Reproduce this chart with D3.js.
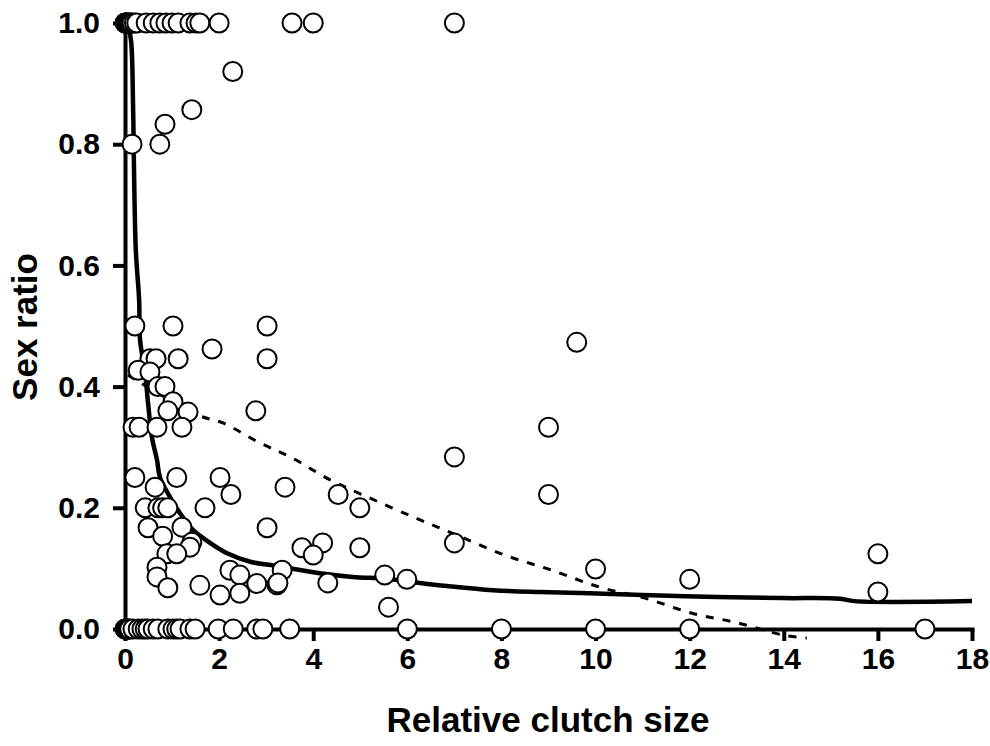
<!DOCTYPE html>
<html>
<head>
<meta charset="UTF-8">
<title>Sex ratio vs relative clutch size</title>
<style>
  * { margin: 0; padding: 0; }
  body { background: #fff; }
  text { font-family: "Liberation Sans", Arial, sans-serif; font-weight: bold; fill: #000; }
</style>
<script src="https://cdn.jsdelivr.net/npm/d3@7/dist/d3.min.js"></script>
</head>
<body>
<svg id="chart" width="990" height="746"></svg>
<script>
// observations with sex ratio 1.0
const onesX = [0, 0.01, 0.02, 0.03, 0.05, 0.07, 0.09, 0.12, 0.15, 0.2, 0.25, 0.45, 0.6, 0.74, 0.87, 1.0, 1.13, 1.38, 1.51, 1.59, 2.0, 3.55, 4.0, 7.0];
// observations with sex ratio 0.0
const zerosX = [0, 0.01, 0.02, 0.04, 0.06, 0.08, 0.1, 0.17, 0.28, 0.36, 0.43, 0.49, 0.6, 0.7, 0.91, 1.02, 1.1, 1.17, 1.38, 1.49, 1.98, 2.3, 2.8, 2.93, 3.5, 6, 8, 10, 12, 17];
// everything in between
const midX = [0.15, 0.74, 0.85, 1.42, 2.29,
  0.21, 1.02, 3.02, 1.85, 3.02, 0.53, 0.66, 1.13, 0.28, 0.53, 0.70, 0.85, 1.02, 0.91, 1.34, 2.78,
  0.17, 0.3, 0.68, 1.21,
  0.21, 0.64, 1.1, 2.02, 2.25, 3.4, 0.43, 0.7, 0.8, 0.91, 1.7, 0.49, 0.8, 1.21, 3.02, 1.42, 1.38,
  0.89, 1.1, 0.68, 0.68, 1.59, 2.23, 2.44, 2.8, 3.34, 0.91, 2.02, 2.44, 3.23,
  4.53, 4.99, 3.76, 4.2, 4.0, 4.99, 3.25, 4.31, 5.52, 5.99, 5.6,
  9.0, 7.0, 9.0, 7.0, 9.6, 10.0, 12.0, 16.0, 16.0];
const midY = [0.80, 0.80, 0.833, 0.857, 0.92,
  0.5, 0.5, 0.5, 0.462, 0.446, 0.446, 0.446, 0.446, 0.427, 0.424, 0.40, 0.40, 0.375, 0.36, 0.358, 0.36,
  0.333, 0.333, 0.333, 0.333,
  0.25, 0.234, 0.25, 0.25, 0.222, 0.234, 0.2, 0.2, 0.2, 0.2, 0.2, 0.167, 0.153, 0.168, 0.167, 0.143, 0.135,
  0.124, 0.124, 0.102, 0.086, 0.072, 0.097, 0.089, 0.075, 0.097, 0.068, 0.056, 0.059, 0.073,
  0.222, 0.2, 0.134, 0.142, 0.122, 0.134, 0.076, 0.076, 0.089, 0.082, 0.036,
  0.333, 0.284, 0.222, 0.142, 0.473, 0.099, 0.082, 0.124, 0.061];

// fitted curves
const fitX = [0.06, 0.13, 0.17, 0.19, 0.23, 0.30, 0.32, 0.42, 0.49, 0.57, 0.68, 0.74, 0.91, 1.17, 1.45, 1.81, 2.17, 2.66, 3.23, 4.14, 4.84, 5.57, 6.27, 6.84, 7.82, 8.82, 9.88, 11.0, 12.58, 13.98, 15.2, 15.5, 18.0];
const fitY = [1.0, 0.97, 0.87, 0.766, 0.625, 0.543, 0.477, 0.427, 0.373, 0.317, 0.279, 0.251, 0.224, 0.191, 0.163, 0.142, 0.125, 0.111, 0.104, 0.092, 0.086, 0.083, 0.076, 0.071, 0.064, 0.061, 0.059, 0.056, 0.053, 0.051, 0.05, 0.046, 0.046];
const dashX = [0.06, 1.55, 2.08, 2.87, 3.51, 4.36, 5.06, 6.12, 7.05, 8.07, 9.07, 10.09, 11.05, 12.05, 13.03, 13.98, 14.49];
const dashY = [0.419, 0.353, 0.34, 0.307, 0.284, 0.246, 0.221, 0.185, 0.155, 0.122, 0.097, 0.069, 0.051, 0.026, 0.01, -0.01, -0.015];

const xTicks = [0, 2, 4, 6, 8, 10, 12, 14, 16, 18];
const yTicks = [0, 0.2, 0.4, 0.6, 0.8, 1.0];

const svg = d3.select("#chart");
const x = d3.scaleLinear().domain([0, 18]).range([125, 972]);
const y = d3.scaleLinear().domain([0, 1]).range([629, 23]);

// axes
const xAxis = svg.append("g").attr("transform", "translate(0,629)")
  .call(d3.axisBottom(x).tickValues(xTicks).tickSize(12).tickSizeOuter(0).tickFormat(d3.format("d")));
const yAxis = svg.append("g").attr("transform", "translate(125,0)")
  .call(d3.axisLeft(y).tickValues(yTicks).tickSize(12).tickSizeOuter(0).tickFormat(d3.format(".1f")));

[xAxis, yAxis].forEach(a => {
  a.attr("font-size", 30).attr("font-family", "'Liberation Sans', Arial, sans-serif");
  a.select(".domain").attr("stroke", "#000").attr("stroke-width", 4).attr("stroke-linecap", "square");
  a.selectAll(".tick line").attr("stroke", "#000").attr("stroke-width", 4);
  a.selectAll(".tick text").attr("font-weight", "bold").attr("fill", "#000");
});
xAxis.selectAll(".tick text").attr("y", 19);
yAxis.selectAll(".tick text").attr("x", -25);

// curves
const fitLine = d3.line().x(d => x(d[0])).y(d => y(d[1])).curve(d3.curveCatmullRom);
svg.append("path")
  .datum(d3.zip(dashX, dashY))
  .attr("d", fitLine)
  .attr("fill", "none").attr("stroke", "#000").attr("stroke-width", 3)
  .attr("stroke-dasharray", "8,9");
svg.append("path")
  .datum(d3.zip(fitX, fitY))
  .attr("d", fitLine)
  .attr("fill", "none").attr("stroke", "#000").attr("stroke-width", 4.5);

// points
const pts = onesX.map(v => [v, 1])
  .concat(zerosX.map(v => [v, 0]))
  .concat(d3.zip(midX, midY));
svg.append("g").selectAll("circle").data(pts).enter()
  .append("circle")
  .attr("cx", d => x(d[0]))
  .attr("cy", d => y(d[1]))
  .attr("r", 9.5)
  .attr("fill", "#fff")
  .attr("stroke", "#000")
  .attr("stroke-width", 2);

// axis titles
svg.append("text").attr("x", 548).attr("y", 732).attr("text-anchor", "middle")
  .attr("font-size", 35).text("Relative clutch size");
svg.append("text").attr("transform", "translate(37,327) rotate(-90)").attr("text-anchor", "middle")
  .attr("font-size", 35).text("Sex ratio");
</script>
</body>
</html>
